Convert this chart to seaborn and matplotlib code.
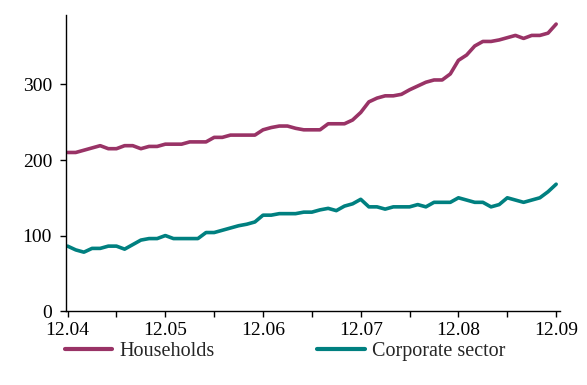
import numpy as np
import pandas as pd
import seaborn as sns
import matplotlib.pyplot as plt

# Monthly stock, Dec 2004 .. Dec 2009 (61 months)
households = [210, 210, 213, 216, 219, 215, 215, 219, 219, 215,
              218, 218, 221, 221, 221, 224, 224, 224, 230, 230,
              233, 233, 233, 233, 240, 243, 245, 245, 242, 240,
              240, 240, 248, 248, 248, 253, 263, 277, 282, 285,
              285, 287, 293, 298, 303, 306, 306, 314, 332, 339,
              351, 357, 357, 359, 362, 365, 361, 365, 365, 368,
              380]
corporate = [86, 81, 78, 83, 83, 86, 86, 82, 88, 94,
             96, 96, 100, 96, 96, 96, 96, 104, 104, 107,
             110, 113, 115, 118, 127, 127, 129, 129, 129, 131,
             131, 134, 136, 133, 139, 142, 148, 138, 138, 135,
             138, 138, 138, 141, 138, 144, 144, 144, 150, 147,
             144, 144, 138, 141, 150, 147, 144, 147, 150, 158,
             168]
tick_labels = ["12.04", "12.05", "12.06", "12.07", "12.08", "12.09"]
series_names = ["Households", "Corporate sector"]

months = np.arange(len(households))
df = pd.DataFrame({
    "month": np.concatenate([months, months]),
    "value": households + corporate,
    "series": [series_names[0]] * len(months) + [series_names[1]] * len(months),
})

sns.set_style("ticks")
plt.rcParams["font.family"] = ["Liberation Serif", "DejaVu Serif"]

fig = plt.figure(figsize=(5.87, 3.85), dpi=100)
ax = fig.add_axes([0.1124, 0.192, 0.842, 0.769])

sns.lineplot(data=df, x="month", y="value", hue="series",
             palette=["#993366", "#008080"], linewidth=2.6, ax=ax, legend=False)

ax.set_xlim(-0.2, 60.5)
ax.set_ylim(0, 392)
ax.set_xticks(np.arange(0, 61, 12))
ax.set_xticklabels(tick_labels)
ax.set_xticks(np.arange(6, 61, 12), minor=True)
ax.set_yticks([0, 100, 200, 300])
ax.tick_params(axis="both", which="both", length=4, width=1, color="black",
               labelsize=14, labelcolor="black")
ax.tick_params(axis="x", which="major", pad=4)
ax.tick_params(axis="y", pad=6)
ax.set_xlabel("")
ax.set_ylabel("")
sns.despine(ax=ax)
for s in ["left", "bottom"]:
    ax.spines[s].set_color("black")
    ax.spines[s].set_linewidth(1)

handles = [plt.Line2D([], [], color="#993366", linewidth=3),
           plt.Line2D([], [], color="#008080", linewidth=3)]
fig.legend(handles, series_names, loc="center left", bbox_to_anchor=(0.111, 0.088),
           ncol=2, frameon=False, fontsize=14.5, handlelength=2.35,
           handletextpad=0.35, columnspacing=5.1, borderpad=0, borderaxespad=0)

fig.savefig("out.png", dpi=100)
